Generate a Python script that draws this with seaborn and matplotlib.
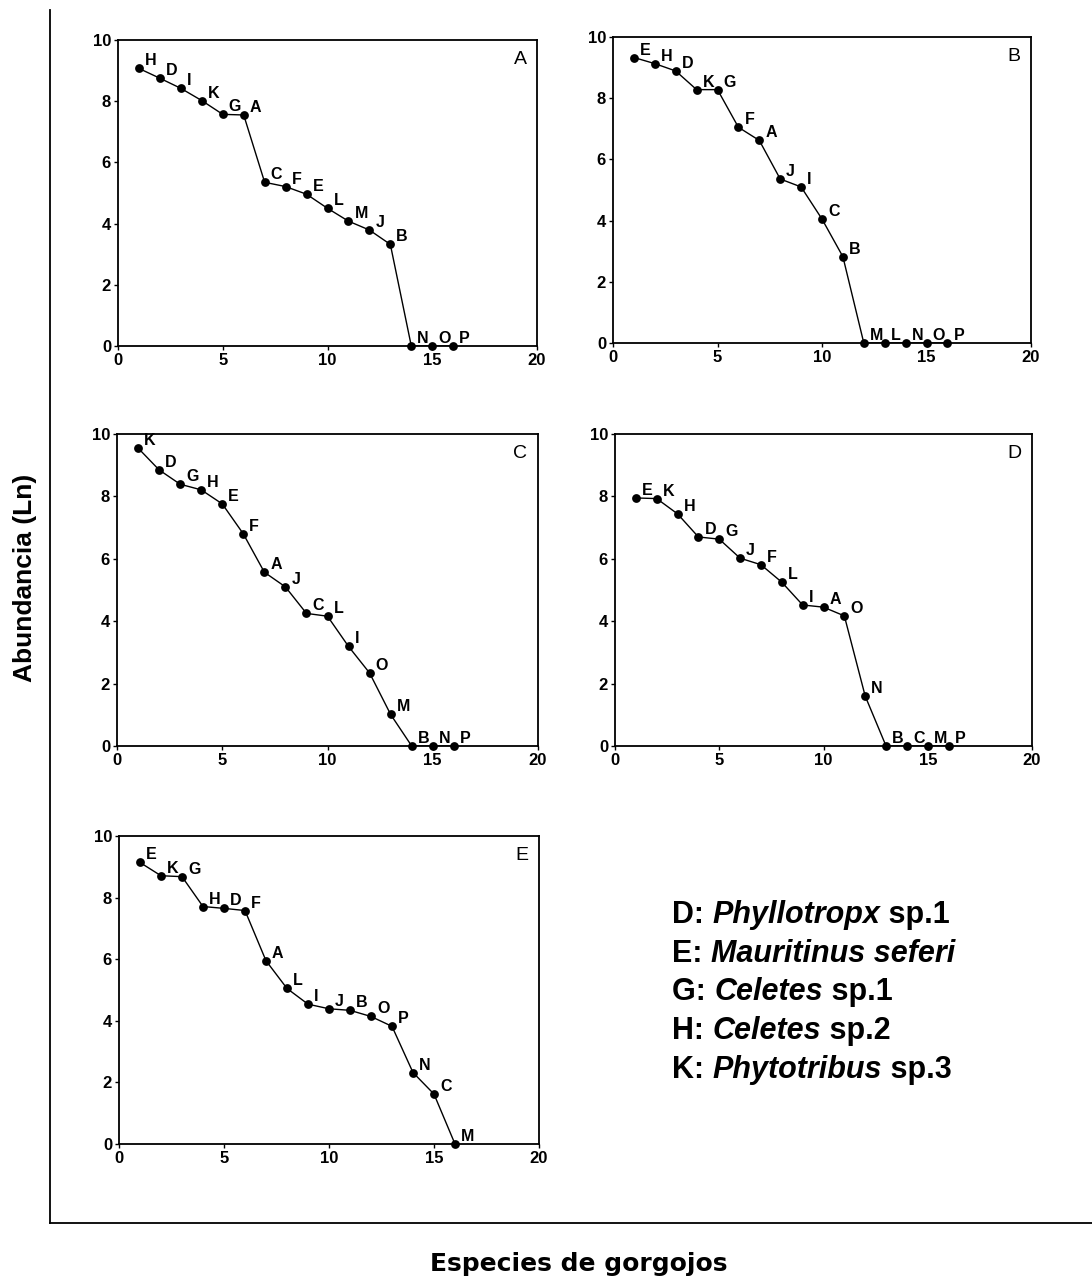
import matplotlib
matplotlib.use("Agg")
import matplotlib.pyplot as plt
import seaborn as sns
import pandas as pd

sns.set_style("ticks")
plt.rcParams['font.family'] = ['Liberation Sans', 'DejaVu Sans']
plt.rcParams['text.color'] = 'black'
plt.rcParams['axes.labelcolor'] = 'black'
plt.rcParams['xtick.color'] = 'black'
plt.rcParams['ytick.color'] = 'black'

# ---------------- data ----------------
rank = list(range(1, 17))

labels_A = ["H", "D", "I", "K", "G", "A", "C", "F", "E", "L", "M", "J", "B", "N", "O", "P"]
values_A = [9.07, 8.75, 8.42, 8.02, 7.57, 7.55, 5.35, 5.21, 4.96, 4.50, 4.08, 3.79, 3.32, 0, 0, 0]

labels_B = ["E", "H", "D", "K", "G", "F", "A", "J", "I", "C", "B", "M", "L", "N", "O", "P"]
values_B = [9.33, 9.13, 8.89, 8.28, 8.28, 7.05, 6.62, 5.36, 5.10, 4.05, 2.82, 0, 0, 0, 0, 0]

labels_C = ["K", "D", "G", "H", "E", "F", "A", "J", "C", "L", "I", "O", "M", "B", "N", "P"]
values_C = [9.55, 8.85, 8.39, 8.21, 7.76, 6.80, 5.57, 5.10, 4.25, 4.16, 3.19, 2.34, 1.01, 0, 0, 0]

labels_D = ["E", "K", "H", "D", "G", "J", "F", "L", "I", "A", "O", "N", "B", "C", "M", "P"]
values_D = [7.95, 7.93, 7.44, 6.70, 6.63, 6.02, 5.81, 5.25, 4.52, 4.45, 4.17, 1.60, 0, 0, 0, 0]

labels_E = ["E", "K", "G", "H", "D", "F", "A", "L", "I", "J", "B", "O", "P", "N", "C", "M"]
values_E = [9.14, 8.71, 8.68, 7.71, 7.65, 7.58, 5.95, 5.05, 4.54, 4.39, 4.34, 4.14, 3.82, 2.32, 1.62, 0]

panel_names = ["A", "B", "C", "D", "E"]
xticks = [0, 5, 10, 15, 20]
yticks = [0, 2, 4, 6, 8, 10]

legend_codes = ["D:", "E:", "G:", "H:", "K:"]
legend_genus = ["Phyllotropx", "Mauritinus seferi", "Celetes", "Celetes", "Phytotribus"]
legend_suffix = [" sp.1", "", " sp.1", " sp.2", " sp.3"]

xlabel = "Especies de gorgojos"
ylabel = "Abundancia (Ln)"

# ---------------- layout ----------------
W, H = 1092, 1281
fig = plt.figure(figsize=(W / 100, H / 100), dpi=100)
fig.patch.set_facecolor("white")


def px_axes(l, t, r, b):
    return fig.add_axes([l / W, (H - b) / H, (r - l) / W, (b - t) / H])


# outer frame
frame = px_axes(50, 10, 1092, 1223)
frame.set_xticks([])
frame.set_yticks([])
for s in ["top", "right"]:
    frame.spines[s].set_visible(False)
for s in ["left", "bottom"]:
    frame.spines[s].set_linewidth(1.3)
    frame.spines[s].set_color("black")
frame.patch.set_alpha(0)

rects = [
    (118, 40, 537, 346),
    (613, 37, 1031, 343),
    (117, 434, 538, 746),
    (615, 434, 1032, 746),
    (119, 836, 539, 1144),
]
all_labels = [labels_A, labels_B, labels_C, labels_D, labels_E]
all_values = [values_A, values_B, values_C, values_D, values_E]

for rect, name, labs, vals in zip(rects, panel_names, all_labels, all_values):
    ax = px_axes(*rect)
    df = pd.DataFrame({"rank": rank, "value": vals, "species": labs})
    sns.lineplot(data=df, x="rank", y="value", ax=ax, color="black",
                 linewidth=1.0, sort=False, estimator=None)
    sns.scatterplot(data=df, x="rank", y="value", ax=ax, color="black",
                    s=40, edgecolor="black", linewidth=0, clip_on=False, zorder=5)
    for _, row in df.iterrows():
        ax.annotate(row["species"], (row["rank"], row["value"]),
                    xytext=(6, 0), textcoords="offset pixels",
                    ha="left", va="bottom", fontsize=11.5, fontweight="bold",
                    color="black", annotation_clip=False)
    ax.set_xlim(0, 20)
    ax.set_ylim(0, 10)
    ax.set_xticks(xticks)
    ax.set_yticks(yticks)
    ax.set_xlabel("")
    ax.set_ylabel("")
    ax.tick_params(direction="out", length=3, width=1, labelsize=12,
                   pad=2, colors="black")
    for lab in ax.get_xticklabels() + ax.get_yticklabels():
        lab.set_fontweight("bold")
        lab.set_fontsize(12)
    for s in ax.spines.values():
        s.set_linewidth(1.3)
        s.set_color("black")
    ax.text(0.975, 0.965, name, transform=ax.transAxes, ha="right", va="top",
            fontsize=14, color="black")

# axis titles
fig.text(579 / W, 1 - 1264 / H, xlabel, ha="center", va="center",
         fontsize=18, fontweight="bold", family="DejaVu Sans", color="black")
fig.text(25 / W, 1 - 578 / H, ylabel, ha="center", va="center", rotation=90,
         fontsize=19, fontweight="bold", color="black")

# species legend
renderer = fig.canvas.get_renderer()
y0 = 915
dy = 38.7
fs = 22
for i, (code, genus, suf) in enumerate(zip(legend_codes, legend_genus, legend_suffix)):
    y = 1 - (y0 + i * dy) / H
    x = 672 / W
    t1 = fig.text(x, y, code + " ", ha="left", va="center", fontsize=fs,
                  fontweight="bold", color="black")
    bb = t1.get_window_extent(renderer)
    x = bb.x1 / W
    t2 = fig.text(x, y, genus, ha="left", va="center", fontsize=fs,
                  fontweight="bold", style="italic", color="black")
    bb = t2.get_window_extent(renderer)
    x = bb.x1 / W
    if suf:
        fig.text(x, y, suf, ha="left", va="center", fontsize=fs,
                 fontweight="bold", color="black")

fig.savefig("out.png", dpi=100, facecolor="white")
